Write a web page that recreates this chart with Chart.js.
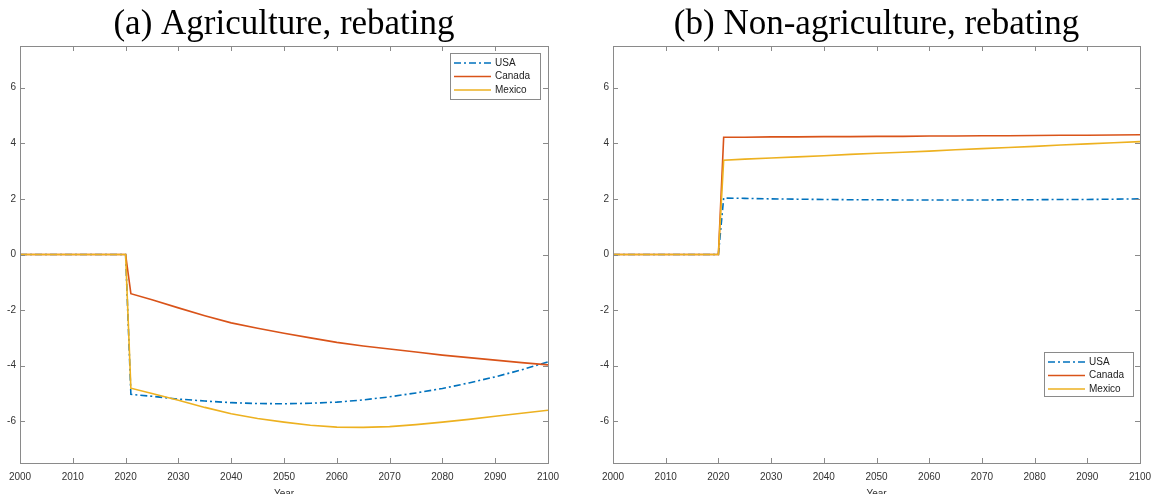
<!DOCTYPE html>
<html>
<head>
<meta charset="utf-8">
<script src="https://cdn.jsdelivr.net/npm/chart.js@4.4.1/dist/chart.umd.min.js"></script>
<style>
	html, body { margin: 0; padding: 0; background: #fff; }
	body { width: 1155px; height: 494px; position: relative; overflow: hidden; }
	.panel { position: absolute; top: 0; height: 494px; }
</style>
</head>
<body>
<div class="panel" style="left:0px;width:562px;"><canvas id="agri"></canvas></div>
<div class="panel" style="left:578px;width:577px;"><canvas id="nonagri"></canvas></div>
<script>
const years = [2000, 2020, 2021, 2025, 2030, 2035, 2040, 2045, 2050, 2055, 2060, 2065, 2070, 2075, 2080, 2085, 2090, 2095, 2100];

// (a) agriculture
const agriUSA = [0, 0, -5.03, -5.1, -5.2, -5.27, -5.33, -5.36, -5.37, -5.35, -5.31, -5.23, -5.12, -4.98, -4.82, -4.62, -4.4, -4.15, -3.86];
const agriCanada = [0, 0, -1.41, -1.63, -1.92, -2.2, -2.46, -2.65, -2.83, -3.0, -3.16, -3.29, -3.4, -3.51, -3.62, -3.71, -3.8, -3.89, -3.97];
const agriMexico = [0, 0, -4.81, -5.0, -5.24, -5.5, -5.73, -5.9, -6.03, -6.14, -6.21, -6.22, -6.19, -6.12, -6.03, -5.93, -5.82, -5.71, -5.6];

// (b) non-agriculture
const nonUSA = [0, 0, 2.03, 2.02, 2.0, 1.99, 1.98, 1.97, 1.97, 1.96, 1.96, 1.96, 1.96, 1.97, 1.97, 1.98, 1.98, 1.99, 2.0];
const nonCanada = [0, 0, 4.22, 4.22, 4.23, 4.23, 4.24, 4.24, 4.25, 4.25, 4.26, 4.26, 4.27, 4.27, 4.28, 4.29, 4.29, 4.3, 4.31];
const nonMexico = [0, 0, 3.39, 3.43, 3.47, 3.51, 3.55, 3.6, 3.64, 3.68, 3.72, 3.77, 3.81, 3.85, 3.89, 3.94, 3.98, 4.02, 4.06];

const yTicks = [-6, -4, -2, 0, 2, 4, 6];
const seriesNames = ["USA", "Canada", "Mexico"];

const colors = ["#0072BD", "#D95319", "#EDB120"];
const dashes = [[7, 3, 2, 3], [], []];

// box round the plot + inward ticks (matlab style)
const boxPlugin = {
	id: "box",
	afterDatasetsDraw(chart) {
		const { ctx, chartArea: a } = chart;
		const x = chart.scales.x, y = chart.scales.y;
		ctx.save();
		ctx.strokeStyle = "#8a8a8a";
		ctx.lineWidth = 1;
		ctx.strokeRect(a.left + 0.5, a.top + 0.5, a.right - a.left, a.bottom - a.top);
		ctx.beginPath();
		x.ticks.forEach((t) => {
			const px = Math.round(x.getPixelForValue(t.value)) + 0.5;
			ctx.moveTo(px, a.bottom); ctx.lineTo(px, a.bottom - 5);
			ctx.moveTo(px, a.top); ctx.lineTo(px, a.top + 5);
		});
		y.ticks.forEach((t) => {
			const py = Math.round(y.getPixelForValue(t.value)) + 0.5;
			ctx.moveTo(a.left, py); ctx.lineTo(a.left + 5, py);
			ctx.moveTo(a.right, py); ctx.lineTo(a.right - 5, py);
		});
		ctx.stroke();
		ctx.restore();
	},
};

// small boxed legend at a fixed spot inside the axes
const boxLegend = {
	id: "boxLegend",
	afterDraw(chart, args, opts) {
		const { ctx } = chart;
		ctx.save();
		ctx.fillStyle = "#fff";
		ctx.fillRect(opts.left, opts.top, opts.width, opts.height);
		ctx.strokeStyle = "#8a8a8a";
		ctx.lineWidth = 1;
		ctx.strokeRect(opts.left + 0.5, opts.top + 0.5, opts.width, opts.height);
		ctx.font = "10px 'Liberation Sans', Arial, sans-serif";
		ctx.textBaseline = "middle";
		chart.data.datasets.forEach((ds, i) => {
			const yy = opts.top + 10 + i * 13.5;
			ctx.strokeStyle = ds.borderColor;
			ctx.lineWidth = ds.borderWidth;
			ctx.setLineDash(ds.borderDash || []);
			ctx.beginPath();
			ctx.moveTo(opts.left + 4, yy);
			ctx.lineTo(opts.left + 41, yy);
			ctx.stroke();
			ctx.setLineDash([]);
			ctx.fillStyle = "#222";
			ctx.fillText(ds.label, opts.left + 45, yy);
		});
		ctx.restore();
	},
};

function makeDatasets(values) {
	return values.map((vals, i) => ({
		label: seriesNames[i],
		data: years.map((yr, k) => ({ x: yr, y: vals[k] })),
		borderColor: colors[i],
		borderWidth: 1.6,
		borderDash: dashes[i],
		pointRadius: 0,
		tension: 0,
		order: 2 - i,
	}));
}

function makeChart(id, title, values, area, legendPos) {
	const tickFont = { family: "'Liberation Sans', Arial, sans-serif", size: 10 };
	return new Chart(document.getElementById(id), {
		type: "line",
		data: { datasets: makeDatasets(values) },
		options: {
			responsive: true,
			maintainAspectRatio: false,
			animation: false,
			layout: { padding: { left: 0, right: area.padRight, top: 0, bottom: 0 } },
			plugins: {
				legend: { display: false },
				tooltip: { enabled: false },
				title: {
					display: true,
					text: title,
					fullSize: false,
					color: "#000",
					font: { family: "'Liberation Serif', 'Times New Roman', serif", size: 35, weight: "normal", lineHeight: 1 },
					padding: { top: 7, bottom: 4 },
				},
				boxLegend: legendPos,
			},
			scales: {
				x: {
					type: "linear",
					min: 2000,
					max: 2100,
					grid: { display: false, drawTicks: false },
					border: { display: false },
					ticks: {
						stepSize: 10,
						padding: 8,
						color: "#333",
						font: tickFont,
						maxRotation: 0,
						callback: (v) => String(v),
					},
					title: { display: true, text: "Year", color: "#333", font: tickFont, padding: { top: 0, bottom: -6 } },
					afterFit: (s) => { s.height = 31; s.paddingLeft = 0; s.paddingRight = 0; },
				},
				y: {
					min: -7.5,
					max: 7.5,
					grid: { display: false, drawTicks: false },
					border: { display: false },
					afterBuildTicks: (s) => { s.ticks = yTicks.map((v) => ({ value: v })); },
					ticks: { padding: 4, color: "#333", font: tickFont },
					afterFit: (s) => { s.width = area.left; s.paddingTop = 0; s.paddingBottom = 0; },
				},
			},
		},
		plugins: [boxPlugin, boxLegend],
	});
}

makeChart("agri", "(a) Agriculture, rebating", [agriUSA, agriCanada, agriMexico],
	{ left: 20, padRight: 14 }, { left: 450, top: 53, width: 90, height: 46 });
makeChart("nonagri", "(b) Non-agriculture, rebating", [nonUSA, nonCanada, nonMexico],
	{ left: 35, padRight: 15 }, { left: 466, top: 352, width: 89, height: 44 });
</script>
</body>
</html>
